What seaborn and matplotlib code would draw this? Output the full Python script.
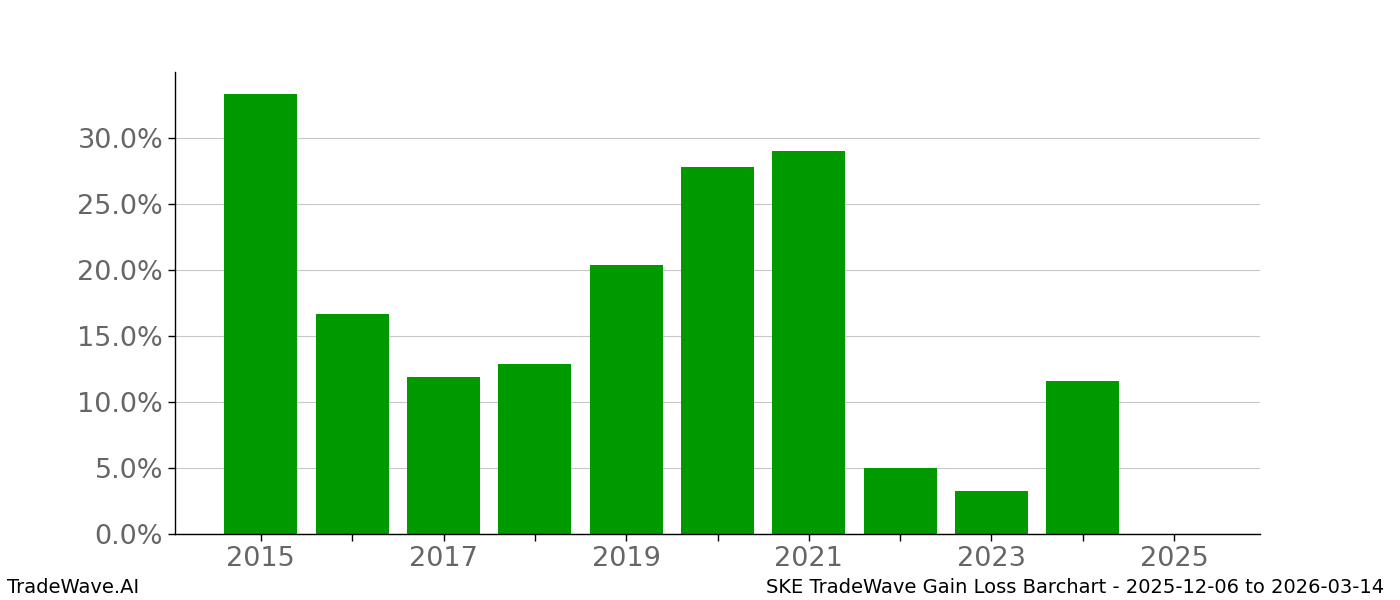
import pandas as pd
import matplotlib
matplotlib.use("Agg")
import matplotlib.pyplot as plt
import matplotlib.ticker as mtick
import seaborn as sns

years = [2015, 2016, 2017, 2018, 2019, 2020, 2021, 2022, 2023, 2024, 2025]
gains = [0.3333, 0.1667, 0.1189, 0.1288, 0.2038, 0.2780, 0.2902, 0.0500, 0.0326, 0.1159, 0.0]
tick_labels = ["2015", "", "2017", "", "2019", "", "2021", "", "2023", "", "2025"]
footer_left = "TradeWave.AI"
footer_right = "SKE TradeWave Gain Loss Barchart - 2025-12-06 to 2026-03-14"

df = pd.DataFrame({"year": years, "gain": gains})

sns.set_style("white")
plt.rcParams['font.family'] = ['DejaVu Sans']

fig, ax = plt.subplots(figsize=(14, 6), dpi=100)
fig.subplots_adjust(left=0.125, right=0.9, top=0.88, bottom=0.11)

sns.barplot(data=df, x="year", y="gain", native_scale=True, color="#009900",
            saturation=1, width=0.8, linewidth=0, ax=ax, zorder=2)

ax.set_xticks(years)
ax.set_xticklabels(tick_labels)
ax.set_xlim(2014.06, 2025.94)
ax.set_ylim(0, 0.35)
ax.yaxis.set_major_formatter(mtick.PercentFormatter(1.0, decimals=1))
ax.set_yticks([0, 0.05, 0.10, 0.15, 0.20, 0.25, 0.30])
ax.yaxis.grid(True, color="#c8c8c8", linewidth=0.8, zorder=0)
ax.set_axisbelow(True)
ax.tick_params(axis="both", labelsize=19.5, labelcolor="#666666", length=5,
               width=1, color="black", direction="out", bottom=True, left=True)
ax.set_xlabel("")
ax.set_ylabel("")
sns.despine(ax=ax)
for side in ["left", "bottom"]:
    ax.spines[side].set_color("black")
    ax.spines[side].set_linewidth(1)

fig.text(0.005, 0.005, footer_left, fontsize=14, color="black", ha="left", va="bottom")
fig.text(0.989, 0.005, footer_right, fontsize=14, color="black", ha="right", va="bottom")

fig.savefig("out.png", dpi=100)
